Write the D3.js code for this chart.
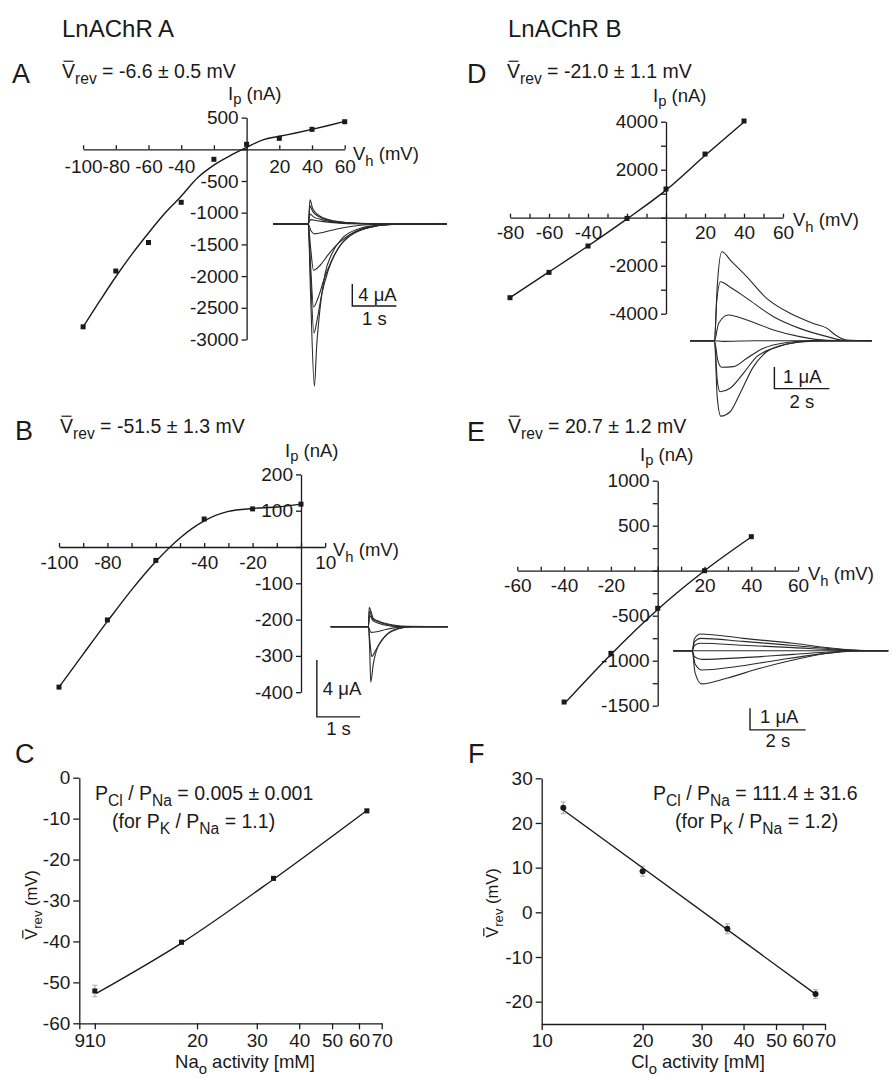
<!DOCTYPE html>
<html><head><meta charset="utf-8">
<script src="https://cdn.jsdelivr.net/npm/d3@7"></script>
<style>body{margin:0;background:#fff}</style>
</head><body>
<script>
// ---- panel A : LnAChR A, I/V ----
var vhA = [-100,-80,-60,-40,-20,0,20,40,60];
var ipA = [-2800,-1920,-1470,-836,-158,79,173,315,435];
var fitVA = [-100,-90,-80,-70,-60,-50,-40,-30,-20,-10,0,10,20,30,40,50,60];
var fitIA = [-2800,-2400,-2010,-1650,-1320,-1010,-740,-450,-250,-100,30,150,205,258,315,375,440];
// ---- panel B ----
var vhB = [-100,-80,-60,-40,-20,0];
var ipB = [-386,-201,-37,77,105,118];
var fitVB = [-100,-90,-80,-70,-60,-50,-40,-30,-20,-10,0];
var fitIB = [-386,-295,-205,-118,-40,25,72,98,106,110,118];
// ---- panel D ----
var vhD = [-80,-60,-40,-20,0,20,40];
var ipD = [-3333,-2278,-1180,-30,1195,2653,4029];
var fitVD = [-80,-60,-40,-20,0,20,40];
var fitID = [-3330,-2260,-1180,-50,1150,2590,3990];
// ---- panel E ----
var vhE = [-40,-20,0,20,40];
var ipE = [-1459,-918,-418,0,378];
var fitVE = [-40,-20,0,20,40];
var fitIE = [-1480,-930,-430,0,375];

// current traces (t in s, I in uA)
var tracesA = [
  [[-0.8,0],[0,0],[0.05,-12],[0.14,-29.5],[0.19,-22.4],[0.27,-15.2],[0.38,-9.1],[0.53,-5.5],[0.76,-2.7],[1.14,-0.9],[1.6,-0.2],[2.2,0],[3.15,0]],
  [[-0.8,0],[0,0],[0.05,-9],[0.13,-19.8],[0.2,-17.5],[0.3,-13],[0.45,-8.5],[0.65,-4.8],[0.9,-2.3],[1.3,-0.7],[1.8,-0.1],[3.15,0]],
  [[-0.8,0],[0,0],[0.05,-7],[0.12,-15.1],[0.22,-13.5],[0.36,-10],[0.52,-6.8],[0.72,-4],[0.98,-2],[1.35,-0.7],[1.9,-0.1],[3.15,0]],
  [[-0.8,0],[0,0],[0.05,-4],[0.12,-8.4],[0.27,-7.5],[0.45,-5.6],[0.7,-3.4],[1.0,-1.7],[1.4,-0.6],[1.9,-0.1],[3.15,0]],
  [[-0.8,0],[0,0],[0.06,-1.2],[0.14,-1.8],[0.35,-1.5],[0.65,-0.9],[1.0,-0.4],[1.5,-0.1],[3.15,0]],
  [[-0.8,0],[0,0],[0.05,0.8],[0.2,0.6],[0.5,0.3],[1.0,0.05],[3.15,0]],
  [[-0.8,0],[0,0],[0.04,1.8],[0.12,1.3],[0.3,0.8],[0.65,0.3],[1.2,0.05],[3.15,0]],
  [[-0.8,0],[0,0],[0.04,3.3],[0.1,2.3],[0.25,1.3],[0.5,0.6],[0.9,0.2],[1.5,0],[3.15,0]],
  [[-0.8,0],[0,0],[0.04,4.4],[0.1,2.8],[0.25,1.5],[0.5,0.7],[0.9,0.25],[1.5,0.05],[3.15,0]]
];
var tracesB = [
  [[-0.87,0],[0,0],[0.03,-1.5],[0.055,-3.9],[0.115,-2.6],[0.19,-1.65],[0.31,-0.94],[0.5,-0.35],[0.73,-0.1],[1.0,0],[1.84,0]],
  [[-0.87,0],[0,0],[0.04,-1.2],[0.08,-2.1],[0.16,-1.7],[0.28,-1.1],[0.45,-0.5],[0.7,-0.15],[1.0,0],[1.84,0]],
  [[-0.87,0],[0,0],[0.06,-0.4],[0.2,-0.35],[0.4,-0.2],[0.7,-0.05],[1.0,0],[1.84,0]],
  [[-0.87,0],[0,0],[0.03,0.8],[0.1,0.45],[0.25,0.22],[0.5,0.06],[0.8,0],[1.84,0]],
  [[-0.87,0],[0,0],[0.025,1.1],[0.1,0.55],[0.27,0.3],[0.55,0.08],[0.85,0],[1.84,0]],
  [[-0.87,0],[0,0],[0.02,1.37],[0.115,0.59],[0.27,0.35],[0.58,0.12],[0.9,0.02],[1.84,0]]
];
var tracesD = [
  [[-0.89,0],[0,0],[0.1,2.5],[0.27,4.12],[0.6,3.7],[1.18,2.96],[1.9,1.96],[2.75,1.27],[3.6,0.8],[4.1,0.57],[4.4,0.26],[4.8,0.03],[5.72,0]],
  [[-0.89,0],[0,0],[0.08,1.8],[0.22,2.73],[0.55,2.5],[1.18,1.96],[2.15,1.11],[3.1,0.57],[4.1,0.19],[4.7,0.02],[5.72,0]],
  [[-0.89,0],[0,0],[0.15,0.8],[0.5,1.19],[0.8,1.12],[1.18,0.96],[2.15,0.5],[3.1,0.19],[4.1,0.02],[5.72,0]],
  [[-0.89,0],[0,0],[0.3,-0.03],[1.5,0],[5.72,0]],
  [[-0.89,0],[0,0],[0.12,-0.9],[0.26,-1.23],[0.69,-1.2],[1.18,-0.81],[1.78,-0.35],[2.63,-0.08],[3.5,0],[5.72,0]],
  [[-0.89,0],[0,0],[0.1,-1.8],[0.2,-2.36],[0.57,-2.2],[1.05,-1.51],[1.54,-0.74],[2.15,-0.35],[3.0,-0.07],[3.8,0],[5.72,0]],
  [[-0.89,0],[0,0],[0.1,-2.6],[0.23,-3.49],[0.57,-3.29],[0.93,-2.44],[1.42,-1.2],[1.9,-0.51],[2.63,-0.15],[3.6,-0.02],[5.72,0]]
];
var tracesE = [
  [[-0.68,0],[0,0],[0.08,0.55],[0.3,0.77],[1.83,0.57],[3.63,0.34],[5.07,0.11],[6.0,0.02],[7.05,0]],
  [[-0.68,0],[0,0],[0.08,0.4],[0.3,0.57],[1.83,0.43],[3.63,0.24],[5.07,0.08],[6.0,0.01],[7.05,0]],
  [[-0.68,0],[0,0],[0.08,0.24],[0.3,0.34],[1.83,0.25],[3.63,0.14],[5.07,0.04],[6.0,0],[7.05,0]],
  [[-0.68,0],[7.05,0]],
  [[-0.68,0],[0,0],[0.08,-0.28],[0.35,-0.4],[1.83,-0.32],[3.63,-0.17],[5.07,-0.05],[6.0,0],[7.05,0]],
  [[-0.68,0],[0,0],[0.1,-0.6],[0.35,-0.89],[1.5,-0.75],[3.0,-0.45],[4.5,-0.17],[5.8,-0.02],[7.05,0]],
  [[-0.68,0],[0,0],[0.1,-1.0],[0.34,-1.53],[1.24,-1.27],[2.44,-0.81],[3.63,-0.43],[4.83,-0.12],[5.8,0],[7.05,0]]
];

// ---- panel C / F : reversal potential vs activity ----
var naAct = [10.0,18.0,33.6,63.3];
var vrevC = [-52.1,-40.2,-24.6,-8.1];
var semC = [1.4,0.5,0.5,0.4];
var fitXC = [10.1,18.0,33.6,63.3];
var fitYC = [-52.7,-40.4,-24.8,-8.0];
var clAct = [11.6,20.0,35.8,65.6];
var vrevF = [23.4,9.2,-3.7,-18.3];
var semF = [1.3,1.1,1.1,1.0];
var fitXF = [11.6,65.6];
var fitYF = [22.9,-18.3];

var FONT = "'Liberation Sans', Arial, Helvetica, sans-serif";
var INK = '#1a1a1a';
var TICK = 19;

var svg = d3.select('body').append('svg')
  .attr('width',893).attr('height',1078)
  .style('font-family',FONT).attr('fill',INK);

// text with subscripts: parts = [[string, isSub], ...]
function rich(g,x,y,parts,size,anchor,shift){
  var sh = shift || 0.32;
  var t = g.append('text').attr('x',x).attr('y',y)
    .attr('font-size',size).attr('text-anchor',anchor||'start');
  var sub=false;
  parts.forEach(function(p){
    var ts = t.append('tspan').text(p[0]);
    if(p[1]) ts.attr('font-size',size*0.8);
    if(p[1] && !sub) ts.attr('dy',size*sh);
    if(!p[1] && sub) ts.attr('dy',-size*sh);
    sub=p[1];
  });
  return t;
}
// bar over the first character (V-bar)
function overbar(t,size){
  var n=t.node();
  var a=n.getStartPositionOfChar(0), b=n.getEndPositionOfChar(0);
  d3.select(n.parentNode).append('line')
    .attr('x1',a.x+1.5).attr('x2',b.x-1.5)
    .attr('y1',a.y-size*0.86).attr('y2',a.y-size*0.86)
    .attr('stroke',INK).attr('stroke-width',1.2);
}
function fmt(d){ return String(d); }

function styleAxis(sel,size){
  sel.attr('font-family',FONT).attr('font-size',size);
  sel.selectAll('path,line').attr('stroke',INK).attr('stroke-width',1.3);
  sel.selectAll('text').attr('fill',INK);
}

function ivPanel(o){
  var g = svg.append('g');
  var x = d3.scaleLinear().domain(o.xDom).range(o.xRange);
  var y = d3.scaleLinear().domain(o.yDom).range(o.yRange);
  var xa = d3.axisBottom(x).tickValues(o.xTicks).tickSizeInner(-4).tickSizeOuter(0)
    .tickPadding(o.xPad).tickFormat(function(d){ return o.xLabels.indexOf(d)>=0 ? fmt(d) : ''; });
  g.append('g').attr('transform','translate(0,'+y(0)+')').call(xa).call(styleAxis,TICK);
  var ya = d3.axisLeft(y).tickValues(o.yTicks).tickSizeInner(5).tickSizeOuter(0)
    .tickPadding(3).tickFormat(function(d){ return o.yLabels.indexOf(d)>=0 ? fmt(d) : ''; });
  g.append('g').attr('transform','translate('+x(0)+',0)').call(ya).call(styleAxis,TICK);

  var line = d3.line().x(function(d){return x(d[0]);}).y(function(d){return y(d[1]);}).curve(d3.curveMonotoneX);
  g.append('path').datum(d3.zip(o.fitV,o.fitI)).attr('d',line)
    .attr('fill','none').attr('stroke',INK).attr('stroke-width',1.4);
  g.selectAll('rect.pt').data(d3.zip(o.v,o.i)).join('rect').attr('class','pt')
    .attr('x',function(d){return x(d[0])-2.5;}).attr('y',function(d){return y(d[1])-2.5;})
    .attr('width',5).attr('height',5).attr('fill',INK);

  rich(g,o.ipPos[0],o.ipPos[1],[['I',0],['p',1],[' (nA)',0]],18.5,'start',0.24);
  rich(g,o.vhPos[0],o.vhPos[1],[['V',0],['h',1],[' (mV)',0]],18.5);
  var t = rich(g,o.titlePos[0],o.titlePos[1],[['V',0],['rev',1],[o.title,0]],19.5);
  overbar(t,19.5);
  g.append('text').attr('x',o.letterPos[0]).attr('y',o.letterPos[1]).attr('font-size',27).text(o.letter);
  return g;
}

function inset(o){
  var g = svg.append('g');
  var x = d3.scaleLinear().domain(o.tDom).range(o.tRange);
  var y = d3.scaleLinear().domain([0,1]).range([o.base,o.base-o.pxUA]);
  var line = d3.line().x(function(d){return x(d[0]);}).y(function(d){return y(d[1]);}).curve(d3.curveMonotoneX);
  g.selectAll('path.tr').data(o.traces).join('path').attr('class','tr').attr('d',line)
    .attr('fill','none').attr('stroke','#2a2a2a').attr('stroke-width',1.1);
  // scale bar
  var bx=x(o.barT), by0=y(o.barI), by1=y(o.barI-o.barUA), bx1=x(o.barT+o.barS);
  g.append('path').attr('d','M'+bx+','+by0+'V'+by1+'H'+bx1)
    .attr('fill','none').attr('stroke',INK).attr('stroke-width',1.4);
  g.append('text').attr('x',bx+o.uaOff[0]).attr('y',by1+o.uaOff[1]).attr('font-size',18.5)
    .text(o.barUA+' \u03bcA');
  g.append('text').attr('x',(bx+bx1)/2+o.sOff[0]).attr('y',by1+o.sOff[1]).attr('font-size',18.5)
    .attr('text-anchor','middle').text(o.barS+' s');
}

function permPanel(o){
  var g = svg.append('g');
  var x = d3.scaleLog().domain(o.xDom).range(o.xRange);
  var y = d3.scaleLinear().domain(o.yDom).range(o.yRange);
  var xa = d3.axisBottom(x).tickValues(o.xTicks).tickSizeInner(6).tickSizeOuter(0).tickPadding(4).tickFormat(fmt);
  g.append('g').attr('transform','translate(0,'+o.yRange[1]+')').call(xa).call(styleAxis,TICK);
  var ya = d3.axisLeft(y).tickValues(o.yTicks).tickSizeInner(6).tickSizeOuter(0).tickPadding(3).tickFormat(fmt);
  g.append('g').attr('transform','translate('+o.xRange[0]+',0)').call(ya).call(styleAxis,TICK);

  var pts = o.x.map(function(v,i){ return {x:v,y:o.y[i],e:o.e[i]}; });
  g.selectAll('line.err').data(pts).join('line').attr('class','err')
    .attr('x1',function(d){return x(d.x);}).attr('x2',function(d){return x(d.x);})
    .attr('y1',function(d){return y(d.y+d.e);}).attr('y2',function(d){return y(d.y-d.e);})
    .attr('stroke','#b5b5b5').attr('stroke-width',1.4);
  g.selectAll('line.cap').data(pts.concat(pts.map(function(d){return {x:d.x,y:d.y,e:-d.e};})))
    .join('line').attr('class','cap')
    .attr('x1',function(d){return x(d.x)-2.5;}).attr('x2',function(d){return x(d.x)+2.5;})
    .attr('y1',function(d){return y(d.y+d.e);}).attr('y2',function(d){return y(d.y+d.e);})
    .attr('stroke','#b5b5b5').attr('stroke-width',1.2);
  var line = d3.line().x(function(d){return x(d[0]);}).y(function(d){return y(d[1]);}).curve(d3.curveMonotoneX);
  g.append('path').datum(d3.zip(o.fitX,o.fitY)).attr('d',line)
    .attr('fill','none').attr('stroke',INK).attr('stroke-width',1.4);
  if(o.circles){
    g.selectAll('circle.pt').data(pts).join('circle').attr('class','pt')
      .attr('cx',function(d){return x(d.x);}).attr('cy',function(d){return y(d.y);}).attr('r',3).attr('fill',INK);
  } else {
    g.selectAll('rect.pt').data(pts).join('rect').attr('class','pt')
      .attr('x',function(d){return x(d.x)-2.5;}).attr('y',function(d){return y(d.y)-2.5;})
      .attr('width',5).attr('height',5).attr('fill',INK);
  }
  rich(g,o.xlabPos[0],o.xlabPos[1],[[o.ion,0],['o',1],[' activity [mM]',0]],18.5,'middle');
  var yl = g.append('g').attr('transform','translate('+o.ylabPos[0]+','+o.ylabPos[1]+') rotate(-90)');
  var t = rich(yl,0,0,[['V',0],['rev',1],[' (mV)',0]],16.5,'middle');
  overbar(t,16.5);
  rich(g,o.ann1[0],o.ann1[1],[['P',0],['Cl',1],[' / P',0],['Na',1],[o.ratio,0]],19.5);
  rich(g,o.ann2[0],o.ann2[1],[['(for P',0],['K',1],[' / P',0],['Na',1],[o.pk,0]],19.5);
  g.append('text').attr('x',o.letterPos[0]).attr('y',o.letterPos[1]).attr('font-size',27).text(o.letter);
}

// column headers
svg.append('text').attr('x',62).attr('y',37).attr('font-size',24).text('LnAChR A');
svg.append('text').attr('x',508).attr('y',37).attr('font-size',24).text('LnAChR B');

ivPanel({letter:'A',letterPos:[12,83],title:' = -6.6 \u00b1 0.5 mV',titlePos:[62,78],
  xDom:[-100,60],xRange:[83.1,344.7],yDom:[500,-3000],yRange:[117.6,339.5],
  xTicks:[-100,-80,-60,-40,-20,0,20,40,60],xLabels:[-100,-80,-60,-40,20,40,60],xPad:10,
  yTicks:[500,0,-500,-1000,-1500,-2000,-2500,-3000],yLabels:[500,-500,-1000,-1500,-2000,-2500,-3000],
  v:vhA,i:ipA,fitV:fitVA,fitI:fitIA,ipPos:[228,100],vhPos:[353,160]});
inset({traces:tracesA,tDom:[-0.8,3.15],tRange:[273,447],base:224,pxUA:5.5,
  barT:1.0,barI:-10.9,barUA:4,barS:1,uaOff:[6,-5],sOff:[0,19]});

ivPanel({letter:'B',letterPos:[15,440],title:' = -51.5 \u00b1 1.3 mV',titlePos:[60,433],
  xDom:[-100,10],xRange:[59,325.2],yDom:[200,-400],yRange:[474.4,692.2],
  xTicks:d3.range(-100,11,10),xLabels:[-100,-80,-40,-20,10],xPad:9,
  yTicks:[200,100,0,-100,-200,-300,-400],yLabels:[200,100,-100,-200,-300,-400],
  v:vhB,i:ipB,fitV:fitVB,fitI:fitIB,ipPos:[285,457],vhPos:[333,556]});
inset({traces:tracesB,tDom:[-0.87,1.84],tRange:[330.7,448],base:626.7,pxUA:14.2,
  barT:-1.19,barI:-2.35,barUA:4,barS:1,uaOff:[6,-22],sOff:[0,18.5]});

ivPanel({letter:'D',letterPos:[467,83],title:' = -21.0 \u00b1 1.1 mV',titlePos:[507,78],
  xDom:[-80,60],xRange:[510,783],yDom:[4000,-4000],yRange:[121.7,313.7],
  xTicks:d3.range(-80,61,10),xLabels:[-80,-60,-40,20,40,60],xPad:8,
  yTicks:d3.range(4000,-4001,-1000),yLabels:[4000,2000,-2000,-4000],
  v:vhD,i:ipD,fitV:fitVD,fitI:fitID,ipPos:[653,102],vhPos:[793,226]});
inset({traces:tracesD,tDom:[-0.89,5.72],tRange:[690,871.7],base:340.7,pxUA:21.6,
  barT:2.18,barI:-1.22,barUA:1,barS:2,uaOff:[8.7,-5.3],sOff:[0,19.7]});

ivPanel({letter:'E',letterPos:[467,441],title:' = 20.7 \u00b1 1.2 mV',titlePos:[508,433],
  xDom:[-60,60],xRange:[517.3,798.1],yDom:[1000,-1500],yRange:[480.7,705.7],
  xTicks:d3.range(-60,61,10),xLabels:[-60,-40,-20,20,40,60],xPad:8,
  yTicks:d3.range(1000,-1501,-250),yLabels:[1000,500,-500,-1000,-1500],
  v:vhE,i:ipE,fitV:fitVE,fitI:fitIE,ipPos:[640,461],vhPos:[808,580]});
inset({traces:tracesE,tDom:[-0.68,7.05],tRange:[673.3,888.2],base:650.7,pxUA:21.7,
  barT:2.08,barI:-2.65,barUA:1,barS:2,uaOff:[10,-6.7],sOff:[0,16.7]});

permPanel({letter:'C',letterPos:[15,763],xDom:[9,70],xRange:[79.3,381.7],yDom:[0,-60],yRange:[777.7,1023.3],
  xTicks:[9,10,20,30,40,50,60,70],yTicks:[0,-10,-20,-30,-40,-50,-60],
  x:naAct,y:vrevC,e:semC,fitX:fitXC,fitY:fitYC,ion:'Na',
  xlabPos:[245,1068],ylabPos:[37,905],ann1:[95,800],ann2:[112,828],
  ratio:' = 0.005 \u00b1 0.001',pk:' = 1.1)',circles:false});
permPanel({letter:'F',letterPos:[468,763],xDom:[10,70],xRange:[541.7,825],yDom:[30,-25],yRange:[778.3,1024],
  xTicks:[10,20,30,40,50,60,70],yTicks:[30,20,10,0,-10,-20],
  x:clAct,y:vrevF,e:semF,fitX:fitXF,fitY:fitYF,ion:'Cl',
  xlabPos:[698,1068],ylabPos:[498,903],ann1:[653,800],ann2:[675,828],
  ratio:' = 111.4 \u00b1 31.6',pk:' = 1.2)',circles:true});
</script>
</body></html>
